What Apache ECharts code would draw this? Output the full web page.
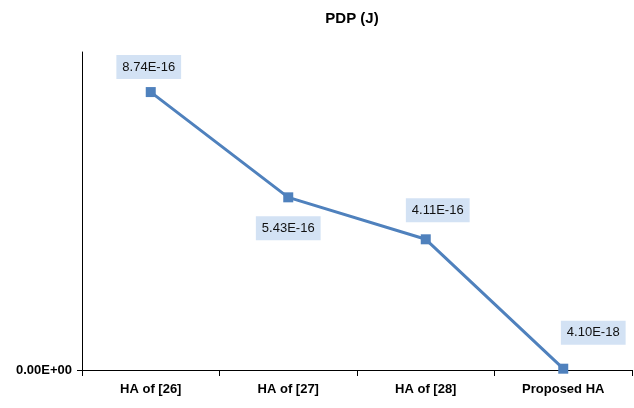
<!DOCTYPE html>
<html>
<head>
<meta charset="utf-8">
<script src="https://cdn.jsdelivr.net/npm/echarts@6/dist/echarts.min.js"></script>
<style>
  html, body { margin: 0; padding: 0; background: #fff; }
  #chart { width: 634px; height: 408px; }
</style>
</head>
<body>
<div id="chart"></div>
<script>
// PDP (J) for each half adder design
const categories = ['HA of [26]', 'HA of [27]', 'HA of [28]', 'Proposed HA'];
const pdpValues = [8.74e-16, 5.43e-16, 4.11e-16, 4.10e-18];
const yTickValues = [0];

const FONT = '"Liberation Sans Narrow", "Liberation Sans", Arial, sans-serif';
const BLUE = '#4f81bd';

// Scientific notation with a two-digit exponent, e.g. 8.74E-16, 0.00E+00
function sci(v) {
  const s = Number(v).toExponential(2).toUpperCase();
  const m = s.match(/^(-?[\d.]+)E([+-])(\d+)$/);
  if (!m) return s;
  return m[1] + 'E' + m[2] + m[3].padStart(2, '0');
}

// Where each data label sits relative to its marker
const labelOffsets = [[-2, -25], [0, 31], [12, -29], [30, -36]];

const chart = echarts.init(document.getElementById('chart'), null, { renderer: 'canvas' });

chart.setOption({
  animation: false,
  backgroundColor: '#ffffff',
  title: {
    text: 'PDP (J)',
    left: 347,
    top: 6,
    textAlign: 'center',
    textStyle: { fontFamily: FONT, fontSize: 15, fontWeight: 'bold', color: '#000' }
  },
  grid: { left: 82, right: 2, top: 52, bottom: 38, containLabel: false },
  xAxis: {
    type: 'category',
    data: categories,
    boundaryGap: true,
    axisLine: { lineStyle: { color: '#000', width: 1 } },
    axisTick: { show: true, length: 6, alignWithLabel: false, lineStyle: { color: '#000' } },
    axisLabel: { margin: 13, fontFamily: FONT, fontSize: 13, fontWeight: 'bold', color: '#000' },
    splitLine: { show: false }
  },
  yAxis: {
    type: 'value',
    min: 0,
    max: 1e-15,
    interval: 1e-15,
    axisLine: { show: true, lineStyle: { color: '#000', width: 1 } },
    axisTick: { show: true, length: 5, customValues: yTickValues, lineStyle: { color: '#000' } },
    axisLabel: {
      customValues: yTickValues,
      margin: 10,
      fontFamily: FONT, fontSize: 13, fontWeight: 'bold', color: '#000',
      formatter: v => sci(v)
    },
    splitLine: { show: false }
  },
  series: [{
    type: 'line',
    data: pdpValues.map((v, i) => ({
      value: v,
      label: { offset: labelOffsets[i] }
    })),
    symbol: 'rect',
    symbolSize: 10,
    lineStyle: { color: BLUE, width: 3 },
    itemStyle: { color: BLUE },
    label: {
      show: true,
      position: 'inside',
      formatter: p => sci(p.value),
      fontFamily: FONT,
      fontSize: 13,
      color: '#111',
      backgroundColor: '#d3e2f4',
      padding: [6, 6, 5, 6]
    }
  }]
});
</script>
</body>
</html>
